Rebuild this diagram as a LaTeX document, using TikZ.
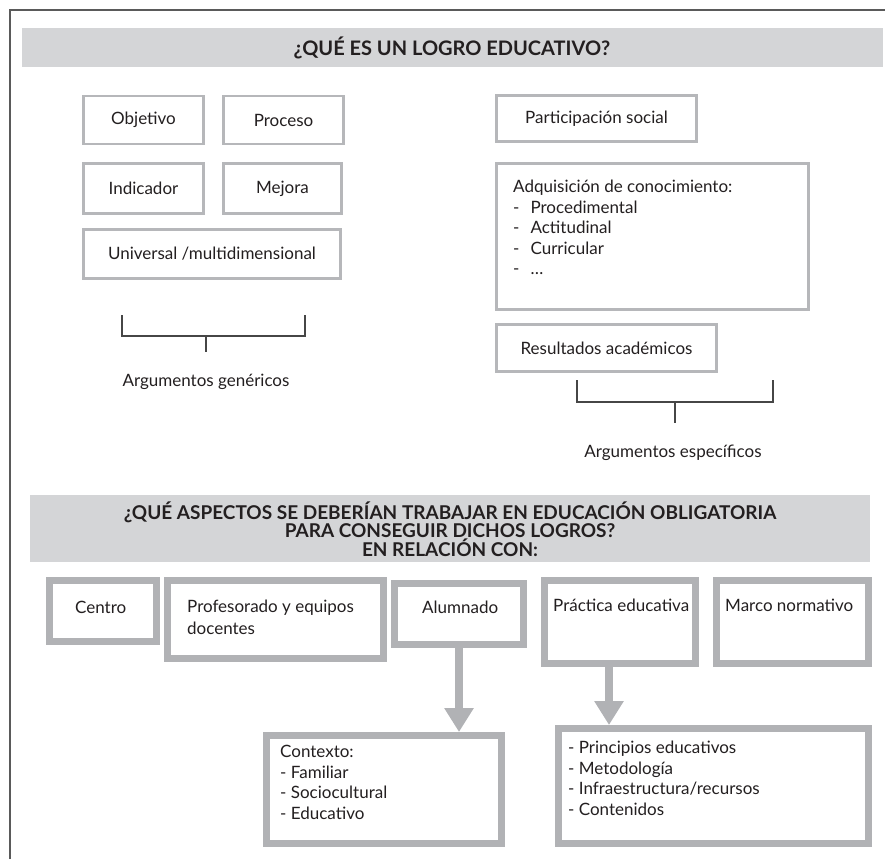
\documentclass[tikz,border=0pt]{standalone}
\usepackage{fontspec}
\setmainfont{Lato}
\usetikzlibrary{arrows.meta}
\definecolor{framec}{RGB}{90,90,90}
\definecolor{bandc}{RGB}{212,213,215}
\definecolor{boxc}{RGB}{182,183,186}
\definecolor{thickc}{RGB}{177,178,181}
\definecolor{txtc}{RGB}{35,31,32}
\definecolor{brc}{RGB}{70,70,70}
\tikzset{
  x=1pt,y=-1pt,
  every node/.style={text=txtc},
  body/.style={font=\fontsize{17}{20.5}\selectfont},
  band/.style={fill=bandc, draw=none},
  headA/.style={font=\bfseries\fontsize{20}{20}\selectfont, align=center},
  headB/.style={font=\bfseries\fontsize{19}{18.6}\selectfont, align=center},
  topbox/.style={draw=boxc, line width=2.6pt, fill=white, inner sep=0pt},
  thickbox/.style={draw=thickc, line width=7pt, fill=white, inner sep=0pt},
  brack/.style={draw=brc, line width=1.6pt},
  bigarrow/.style={draw=thickc, line width=8.5pt, -{Triangle[width=28pt,length=24pt]}},
}
\begin{document}
\begin{tikzpicture}
\useasboundingbox (0,0) rectangle (885,859);
% frame
\draw[framec, line width=1.6pt] (10,859) -- (10,10) -- (885,10);
% header 1
\fill[band] (22,28) rectangle (883,67);
\node[headA] (h1) at (452,47.5) {¿QUÉ ES UN LOGRO EDUCATIVO?};
% top left boxes
\node[topbox, body, minimum width=120pt, minimum height=48pt] (obj) at (143.5,120) {Objetivo};
\node[topbox, body, minimum width=120pt, minimum height=48pt] (pro) at (283.5,120) {Proceso};
\node[topbox, body, minimum width=120pt, minimum height=50pt] (ind) at (143.5,188.5) {Indicador};
\node[topbox, body, minimum width=118pt, minimum height=50pt] (mej) at (282.5,188.5) {Mejora};
\node[topbox, body, minimum width=257pt, minimum height=49pt] (uni) at (212,254) {Universal /multidimensional};
% left bracket
\coordinate (lb1) at (122,315);
\coordinate (lb2) at (305,315);
\coordinate (lbm) at (206,336);
\draw[brack] (lb1) -- (122,336) -- (305,336) -- (lb2);
\draw[brack] (lbm) -- (206,352) coordinate (lbe);
\node[body] (argg) at (206,382) {Argumentos genéricos};
% top right boxes
\node[topbox, body, minimum width=200pt, minimum height=46pt] (par) at (596.5,118.5) {Participación social};
\node[topbox, minimum width=312pt, minimum height=146pt] (adq) at (652.5,236.5) {};
\node[body, anchor=north west, align=left, inner sep=0pt] (adqT) at (513,180) {Adquisición de conocimiento:\\
-\hspace{11pt}Procedimental\\
-\hspace{11pt}Actitudinal\\
-\hspace{11pt}Curricular\\
-\hspace{11pt}\dots};
\node[topbox, body, minimum width=220pt, minimum height=47pt] (res) at (606.5,348) {Resultados académicos};
% right bracket
\coordinate (rb1) at (577,380);
\coordinate (rb2) at (773,380);
\draw[brack] (rb1) -- (577,402) -- (773,402) -- (rb2);
\draw[brack] (675,402) coordinate (rbm) -- (675,423) coordinate (rbe);
\node[body] (arge) at (673,453) {Argumentos específicos};
% header 2
\fill[band] (30,495) rectangle (870,562);
\node[headB] (h2) at (450,529) {¿QUÉ ASPECTOS SE DEBERÍAN TRABAJAR EN EDUCACIÓN OBLIGATORIA\\PARA CONSEGUIR DICHOS LOGROS?\\EN RELACIÓN CON:};
% bottom row boxes
\node[thickbox, minimum width=107pt, minimum height=61pt] (cen) at (103,611) {};
\node[thickbox, minimum width=216pt, minimum height=78pt] (prof) at (275.5,619.5) {};
\node[thickbox, minimum width=129pt, minimum height=61pt] (alu) at (459,614) {};
\node[thickbox, minimum width=151pt, minimum height=83pt] (pra) at (620,622) {};
\node[thickbox, minimum width=152pt, minimum height=83pt] (mar) at (792.5,622) {};
\node[body, anchor=west, inner sep=0pt] (cenT) at (75,607) {Centro};
\node[body, anchor=north west, align=left, inner sep=0pt, font=\fontsize{17}{22}\selectfont] (profT) at (187,600) {Profesorado y equipos\\docentes};
\node[body, anchor=west, inner sep=0pt] (aluT) at (422,607) {Alumnado};
\node[body, anchor=west, inner sep=0pt] (praT) at (553,605) {Práctica educativa};
\node[body, anchor=west, inner sep=0pt] (marT) at (725,605) {Marco normativo};
% bottom boxes
\node[thickbox, minimum width=235pt, minimum height=108pt] (ctx) at (384,789.5) {};
\node[thickbox, minimum width=310pt, minimum height=115pt] (pri) at (713.5,786) {};
\node[body, anchor=north west, align=left, inner sep=0pt] (ctxT) at (280,745) {Contexto:\\
- Familiar\\
- Sociocultural\\
- Educativo};
\node[body, anchor=north west, align=left, inner sep=0pt] (priT) at (568,741) {- Principios educativos\\
- Metodología\\
- Infraestructura/recursos\\
- Contenidos};
% arrows
\draw[bigarrow] (alu.south) -- (alu.south |- ctx.north);
\draw[bigarrow] ([xshift=-11pt]pra.south) -- ([xshift=-11pt]pra.south |- pri.north);
\end{tikzpicture}
\end{document}
